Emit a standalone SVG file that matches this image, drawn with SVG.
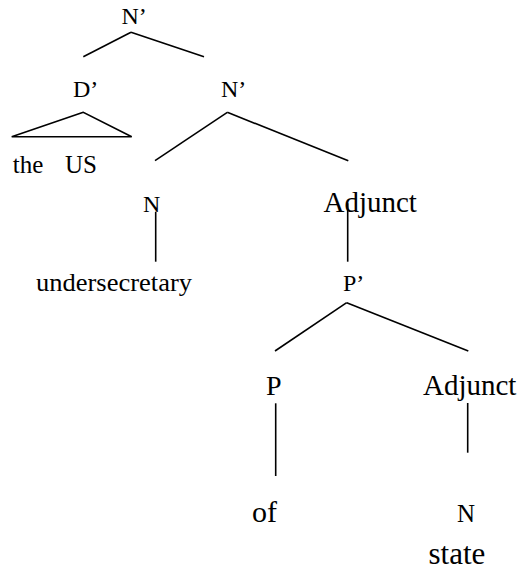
<svg xmlns="http://www.w3.org/2000/svg" width="523" height="570" viewBox="0 0 523 570">
<style>
text { font-family: "Liberation Serif", "Times New Roman", serif; fill: #000; }
.ln { stroke: #000; stroke-width: 1.6; fill: none; stroke-linecap: butt; }
.lab { font-size: 24px; }
</style>
<rect width="523" height="570" fill="#fff"/>
<g id="connectors">
<line class="ln" x1="131" y1="32.3" x2="83.3" y2="56.7"/>
<line class="ln" x1="131" y1="32.3" x2="204" y2="56.7"/>
<polygon class="ln" points="83.3,112.3 11.7,136.7 131.7,136.7"/>
<line class="ln" x1="227.3" y1="112.3" x2="155" y2="160.7"/>
<line class="ln" x1="227.3" y1="112.3" x2="348.3" y2="160.7"/>
<line class="ln" x1="155.7" y1="211.7" x2="155.7" y2="261.7"/>
<line class="ln" x1="347.7" y1="203.3" x2="347.7" y2="261.7"/>
<line class="ln" x1="346.7" y1="302.7" x2="275" y2="351"/>
<line class="ln" x1="346.7" y1="302.7" x2="468.3" y2="351"/>
<line class="ln" x1="275.7" y1="403.3" x2="275.7" y2="476"/>
<line class="ln" x1="467.7" y1="403" x2="467.7" y2="452.7"/>
</g>
<g id="n-top"><text class="lab" x="121.5" y="24">N’</text></g>
<g id="d-bar"><text class="lab" x="73" y="97">D’</text></g>
<g id="the-us"><text x="12.7" y="173" font-size="25">the<tspan x="65">US</tspan></text></g>
<g id="n-bar"><text class="lab" x="221" y="97">N’</text></g>
<g id="n-head"><text x="143" y="212" font-size="24">N</text></g>
<g id="undersecretary"><text x="36" y="291" font-size="24.5" textLength="156" lengthAdjust="spacingAndGlyphs">undersecretary</text></g>
<g id="adjunct-1"><text x="323.5" y="212" font-size="29">Adjunct</text></g>
<g id="p-bar"><text class="lab" x="343" y="291">P’</text></g>
<g id="p-head"><text x="266" y="395" font-size="28">P</text></g>
<g id="adjunct-2"><text x="423" y="395" font-size="29">Adjunct</text></g>
<g id="of"><text x="252" y="522" font-size="30">of</text></g>
<g id="n-state"><text x="457" y="522" font-size="25">N</text></g>
<g id="state"><text x="428.5" y="564" font-size="31">state</text></g>
</svg>
